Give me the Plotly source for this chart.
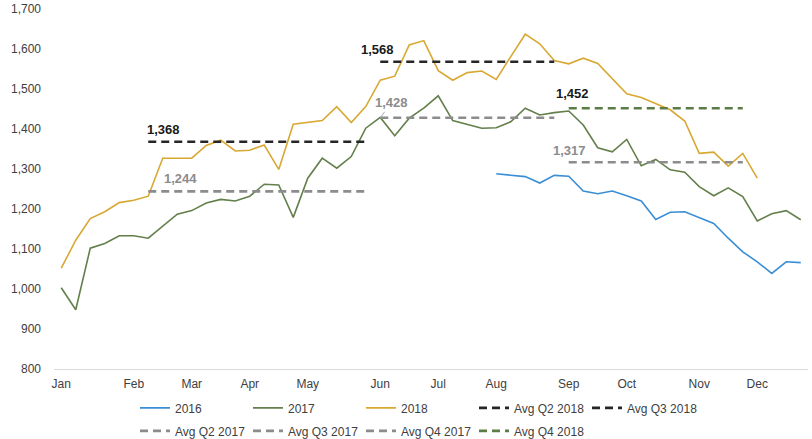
import plotly.graph_objects as go

# ---- data -------------------------------------------------------------
weeks = list(range(52))
month_ticks = [0, 5, 9, 13, 17, 22, 26, 30, 35, 39, 44, 48]
month_labels = ["Jan", "Feb", "Mar", "Apr", "May", "Jun", "Jul", "Aug",
                "Sep", "Oct", "Nov", "Dec"]

s2016 = [None] * 30 + [1288, 1285, 1281, 1265, 1284, 1282, 1245, 1238, 1245,
                       1233, 1220, 1174, 1192, 1193, 1179, 1164, 1127, 1093,
                       1068, 1039, 1068, 1066]

s2017 = [1003, 948, 1102, 1114, 1133, 1133, 1127, 1156, 1187, 1196,
         1215, 1224, 1220, 1232, 1262, 1260, 1179, 1277, 1327, 1302,
         1331, 1402, 1429, 1383, 1427, 1452, 1483, 1421, 1412, 1402,
         1403, 1418, 1452, 1435, 1441, 1445, 1410, 1353, 1343, 1374,
         1308, 1324, 1298, 1292, 1256, 1233, 1253, 1231, 1170, 1188,
         1196, 1173]

s2018 = [1052, 1122, 1176, 1193, 1216, 1222, 1232, 1327, 1327, 1327,
         1359, 1372, 1345, 1347, 1360, 1299, 1412, 1417, 1421, 1456,
         1416, 1456, 1522, 1532, 1610, 1621, 1546, 1522, 1541, 1545,
         1524, 1581, 1637, 1613, 1571, 1563, 1577, 1564, 1525, 1488,
         1479, 1464, 1448, 1420, 1339, 1342, 1307, 1339, 1277] + [None] * 3

avg_names = ["Avg Q2 2018", "Avg Q3 2018", "Avg Q2 2017", "Avg Q3 2017",
             "Avg Q4 2017", "Avg Q4 2018"]
avg_values = [1368, 1568, 1244, 1428, 1317, 1452]
avg_start = [6, 22, 6, 22, 35, 35]
avg_end = [21, 34, 21, 34, 47, 47]
avg_colors = ["#262626", "#262626", "#8c8c8c", "#8c8c8c", "#8c8c8c", "#5a7c46"]
avg_legend = ["legend", "legend", "legend2", "legend2", "legend2", "legend2"]
avg_label_x = [5.75, 20.55, 6.95, None, 33.8, 34.0]
avg_label_y = [1400, 1600, 1277, None, 1347, 1490]
avg_label_color = ["#1a1a1a", "#1a1a1a", "#8c8c8c", "#8c8c8c", "#8c8c8c", "#1a1a1a"]

FONT = "Liberation Sans, Arial, sans-serif"

fig = go.Figure()

series = [("2016", s2016, "#3a8ed6"), ("2017", s2017, "#637f4b"),
          ("2018", s2018, "#d8a832")]
for name, vals, col in series:
    fig.add_trace(go.Scatter(x=weeks, y=vals, name=name, mode="lines",
                             line=dict(color=col, width=1.6),
                             connectgaps=False, legend="legend"))

for i, nm in enumerate(avg_names):
    fig.add_trace(go.Scatter(
        x=[avg_start[i], avg_end[i]], y=[avg_values[i], avg_values[i]],
        name=nm, mode="lines",
        line=dict(color=avg_colors[i], width=2.6, dash="8px,5px"),
        legend=avg_legend[i]))

for i, nm in enumerate(avg_names):
    v = avg_values[i]
    txt = f"<b>{v:,}</b>"
    if avg_label_x[i] is not None:
        fig.add_annotation(x=avg_label_x[i], y=avg_label_y[i], text=txt,
                           xref="x", yref="y", xanchor="left", yanchor="middle",
                           showarrow=False,
                           font=dict(family=FONT, size=13, color=avg_label_color[i]))
    else:
        fig.add_annotation(x=avg_start[i], y=v, text=txt, xref="x", yref="y",
                           showarrow=True, arrowhead=0, arrowwidth=1,
                           arrowcolor="#a6a6a6", ax=11, ay=-15, standoff=0,
                           font=dict(family=FONT, size=13, color=avg_label_color[i]))

legend_common = dict(orientation="h", x=0.1074, xanchor="left",
                     yanchor="middle", entrywidth=68, entrywidthmode="pixels",
                     bgcolor="rgba(0,0,0,0)", tracegroupgap=0,
                     font=dict(family=FONT, size=12, color="#404040"))

fig.update_layout(
    width=812, height=439,
    margin=dict(l=54, r=4, t=9, b=70, autoexpand=False),
    paper_bgcolor="white", plot_bgcolor="white",
    font=dict(family=FONT, size=12, color="#595959"),
    xaxis=dict(range=[-0.5, 51.5], tickmode="array", tickvals=month_ticks,
               ticktext=month_labels, showgrid=False, zeroline=False,
               showline=True, linecolor="#d9d9d9", linewidth=1, ticks="",
               ticklabelstandoff=4, automargin=False,
               tickfont=dict(family=FONT, size=12, color="#404040")),
    yaxis=dict(range=[800, 1700], dtick=100, tickformat=",d",
               showgrid=False, zeroline=False, showline=False, ticks="",
               ticklabelstandoff=12, automargin=False,
               tickfont=dict(family=FONT, size=12, color="#404040")),
    legend=dict(y=-0.108, **legend_common),
    legend2=dict(y=-0.172, **legend_common),
    showlegend=True,
)

fig.write_html("out.html",
               config={"displayModeBar": False},
               post_script="document.body.style.margin='0';"
                           "document.body.style.overflow='hidden';")
